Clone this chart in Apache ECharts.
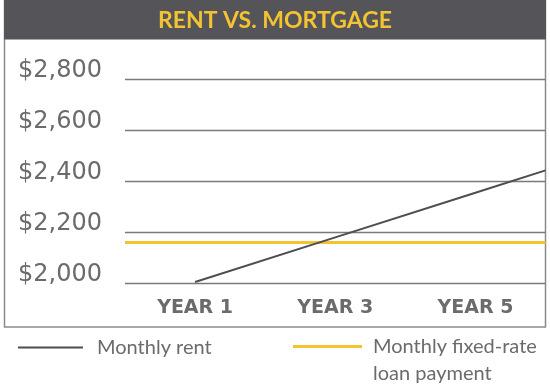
<!DOCTYPE html>
<html>
<head>
<meta charset="utf-8">
<script src="https://cdn.jsdelivr.net/npm/echarts@6/dist/echarts.min.js"></script>
<style>
  html, body { margin: 0; padding: 0; background: #ffffff; }
  #chart { width: 550px; height: 390px; }
</style>
</head>
<body>
<div id="chart"></div>
<script>
// Monthly cost comparison: rent grows each year, the fixed-rate loan stays flat.
const titleText = 'RENT VS. MORTGAGE';
const years = [1, 3, 5, 6];
const rentValues = [2005, 2180, 2355, 2443];
const loanYears = [0, 6];
const loanValues = [2160, 2160];
const yearTicks = [1, 3, 5];
const rentName = 'Monthly rent';
const loanName = 'Monthly fixed-rate loan payment';

const gray = '#6b6b6b';
const frameGray = '#8a8a8a';
const barGray = '#545459';
const yellow = '#f3c332';

const chart = echarts.init(document.getElementById('chart'), null, { renderer: 'canvas' });

const legendText = { color: gray, fontFamily: 'Lato', fontSize: 20, lineHeight: 27 };

chart.setOption({
  backgroundColor: '#ffffff',
  animation: false,
  graphic: [
    {
      type: 'rect', z: -1,
      shape: { x: 4.5, y: 0.5, width: 541, height: 326.5 },
      style: { fill: 'none', stroke: frameGray, lineWidth: 1.5 }
    },
    {
      type: 'rect', z: 0,
      shape: { x: 4, y: 0, width: 542, height: 39.5 },
      style: { fill: barGray }
    }
  ],
  title: {
    text: titleText,
    left: 'center', top: 8, padding: 0,
    textStyle: { color: yellow, fontFamily: 'Lato', fontWeight: 'bold', fontSize: 23, lineHeight: 26 }
  },
  grid: { left: 125, right: 4.5, top: 79.3, bottom: 106.7 },
  xAxis: {
    type: 'value', min: 0, max: 6, interval: 1,
    axisLine: { show: false },
    axisTick: { show: false },
    splitLine: { show: false },
    axisLabel: {
      customValues: yearTicks,
      formatter: v => 'YEAR ' + v,
      color: gray, fontFamily: 'DejaVu Sans', fontWeight: 'bold', fontSize: 19,
      margin: 15
    }
  },
  yAxis: {
    type: 'value', min: 2000, max: 2800, interval: 200,
    axisLine: { show: false },
    axisTick: { show: false },
    splitLine: { lineStyle: { color: '#7a7a7a', width: 1.3 } },
    axisLabel: {
      formatter: v => '$' + v.toLocaleString('en-US'),
      color: gray, fontFamily: 'DejaVu Sans', fontSize: 24, lineHeight: 18,
      align: 'left', margin: 107,
      verticalAlign: 'bottom'
    }
  },
  legend: [
    {
      data: [rentName],
      left: 18, top: 334, padding: 0,
      icon: 'rect', itemWidth: 65, itemHeight: 2, itemGap: 0,
      formatter: name => '{t|' + name + '}',
      textStyle: Object.assign({}, legendText, {
        rich: { t: Object.assign({}, legendText, { padding: [0, 0, 0, 9] }) }
      })
    },
    {
      data: [loanName],
      left: 293, top: 306, padding: 0,
      icon: 'rect', itemWidth: 69, itemHeight: 3, itemGap: 0,
      formatter: () => '{t| }\n{t|Monthly fixed-rate}\n{t|loan payment}',
      textStyle: Object.assign({}, legendText, {
        rich: { t: Object.assign({}, legendText, { padding: [0, 0, 0, 6] }) }
      })
    }
  ],
  series: [
    {
      name: loanName, type: 'line',
      data: loanYears.map((y, i) => [y, loanValues[i]]),
      symbol: 'none', color: yellow,
      lineStyle: { color: yellow, width: 3 }
    },
    {
      name: rentName, type: 'line',
      data: years.map((y, i) => [y, rentValues[i]]),
      symbol: 'none', color: '#4d4d52',
      lineStyle: { color: '#4d4d52', width: 2 }
    }
  ]
});
</script>
</body>
</html>
